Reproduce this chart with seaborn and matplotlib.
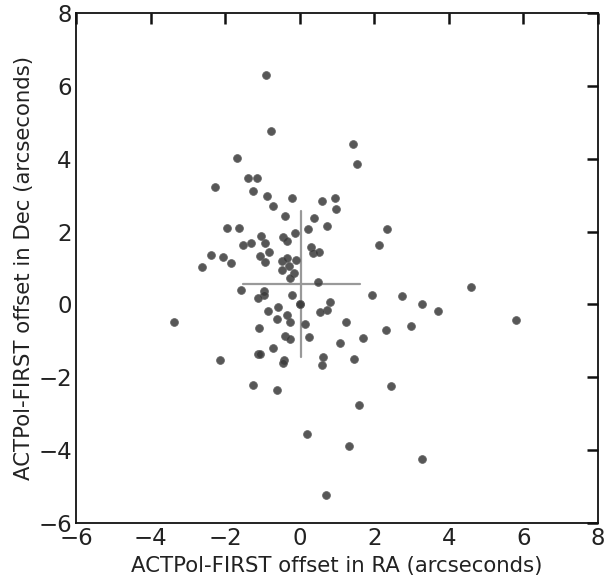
import numpy as np
import pandas as pd
import matplotlib
matplotlib.use("Agg")
import matplotlib.pyplot as plt
import seaborn as sns

ra_offset = [-0.91, -0.77, 1.43, 1.53, -1.67, -1.38, -1.14, -2.28, -1.24, -0.88,
             -0.20, -0.71, 0.59, 0.95, 0.96, -0.39, 0.37, 0.74, 0.21, -0.12,
             -1.96, -1.64, -1.05, -0.45, -0.34, -0.93, -1.31, -1.51, 2.33, 2.12,
             0.29, 0.35, 0.51, -0.83, -2.38, -2.07, -1.07, -1.84, -2.61, -0.94,
             -0.48, -0.34, -0.09, -0.29, -0.48, -0.15, -0.27, 0.50, -1.57, -0.97,
             -0.96, -1.13, -0.22, 1.94, 0.01, 0.01, 0.80, 0.73, 0.55, -0.59,
             -0.84, -0.35, -0.61, -0.27, 0.14, -3.36, 1.23, 2.32, -1.08, -0.40,
             -0.25, 0.26, 1.70, 1.08, -0.71, -1.13, -1.07, -2.13, -0.41, -0.44,
             0.63, 0.61, 1.46, -1.25, -0.62, 2.45, 1.59, 0.19, 4.59, 2.74,
             3.27, 3.72, 5.79, 2.99, 1.32, 3.28, 0.70]
dec_offset = [6.30, 4.77, 4.41, 3.85, 4.01, 3.47, 3.47, 3.23, 3.11, 2.98,
              2.92, 2.70, 2.83, 2.92, 2.63, 2.42, 2.37, 2.16, 2.06, 1.96,
              2.09, 2.10, 1.88, 1.85, 1.75, 1.68, 1.69, 1.63, 2.06, 1.63,
              1.57, 1.42, 1.43, 1.43, 1.37, 1.30, 1.33, 1.13, 1.02, 1.17,
              1.20, 1.28, 1.21, 1.06, 0.95, 0.85, 0.73, 0.62, 0.39, 0.37,
              0.25, 0.18, 0.26, 0.26, 0.01, 0.01, 0.06, -0.16, -0.22, -0.07,
              -0.19, -0.28, -0.41, -0.47, -0.54, -0.47, -0.48, -0.70, -0.66, -0.87,
              -0.96, -0.90, -0.91, -1.07, -1.19, -1.36, -1.36, -1.53, -1.52, -1.62,
              -1.44, -1.65, -1.49, -2.20, -2.35, -2.23, -2.76, -3.57, 0.48, 0.24,
              0.00, -0.17, -0.43, -0.60, -3.89, -4.25, -5.23]

cross_center = [0.04, 0.555]
cross_halfwidth = [1.57, 2.0]

df = pd.DataFrame({"ra": ra_offset, "dec": dec_offset})

sns.set_style("white")
plt.rcParams['font.family'] = ['DejaVu Sans']

fig = plt.figure(figsize=(6.06, 5.79), dpi=100)
ax = fig.add_axes([0.1254, 0.0967, 0.8614, 0.8808])

ax.plot([cross_center[0] - cross_halfwidth[0], cross_center[0] + cross_halfwidth[0]],
        [cross_center[1], cross_center[1]], color="#999999", lw=1.6, zorder=1)
ax.plot([cross_center[0], cross_center[0]],
        [cross_center[1] - cross_halfwidth[1], cross_center[1] + cross_halfwidth[1]],
        color="#999999", lw=1.6, zorder=1)

sns.scatterplot(data=df, x="ra", y="dec", ax=ax, color="#3a3a3a", alpha=0.85,
                s=32, edgecolor="#606060", linewidth=0.6, zorder=2)

ax.set_xlim(-6, 8)
ax.set_ylim(-6, 8)
ax.set_xticks(np.arange(-6, 9, 2))
ax.set_yticks(np.arange(-6, 9, 2))
ax.tick_params(direction="in", length=8, width=1.8, labelsize=16.5, top=True, right=True,
               color="#111111", labelcolor="#222222", pad=3)
for sp in ax.spines.values():
    sp.set_visible(True)
    sp.set_color("#111111")
    sp.set_linewidth(1.3)
ax.set_xlabel("ACTPol-FIRST offset in RA (arcseconds)", fontsize=15.3, color="#222222", labelpad=4)
ax.set_ylabel("ACTPol-FIRST offset in Dec (arcseconds)", fontsize=15.3, color="#222222", labelpad=3)

fig.savefig("out.png", dpi=100)
